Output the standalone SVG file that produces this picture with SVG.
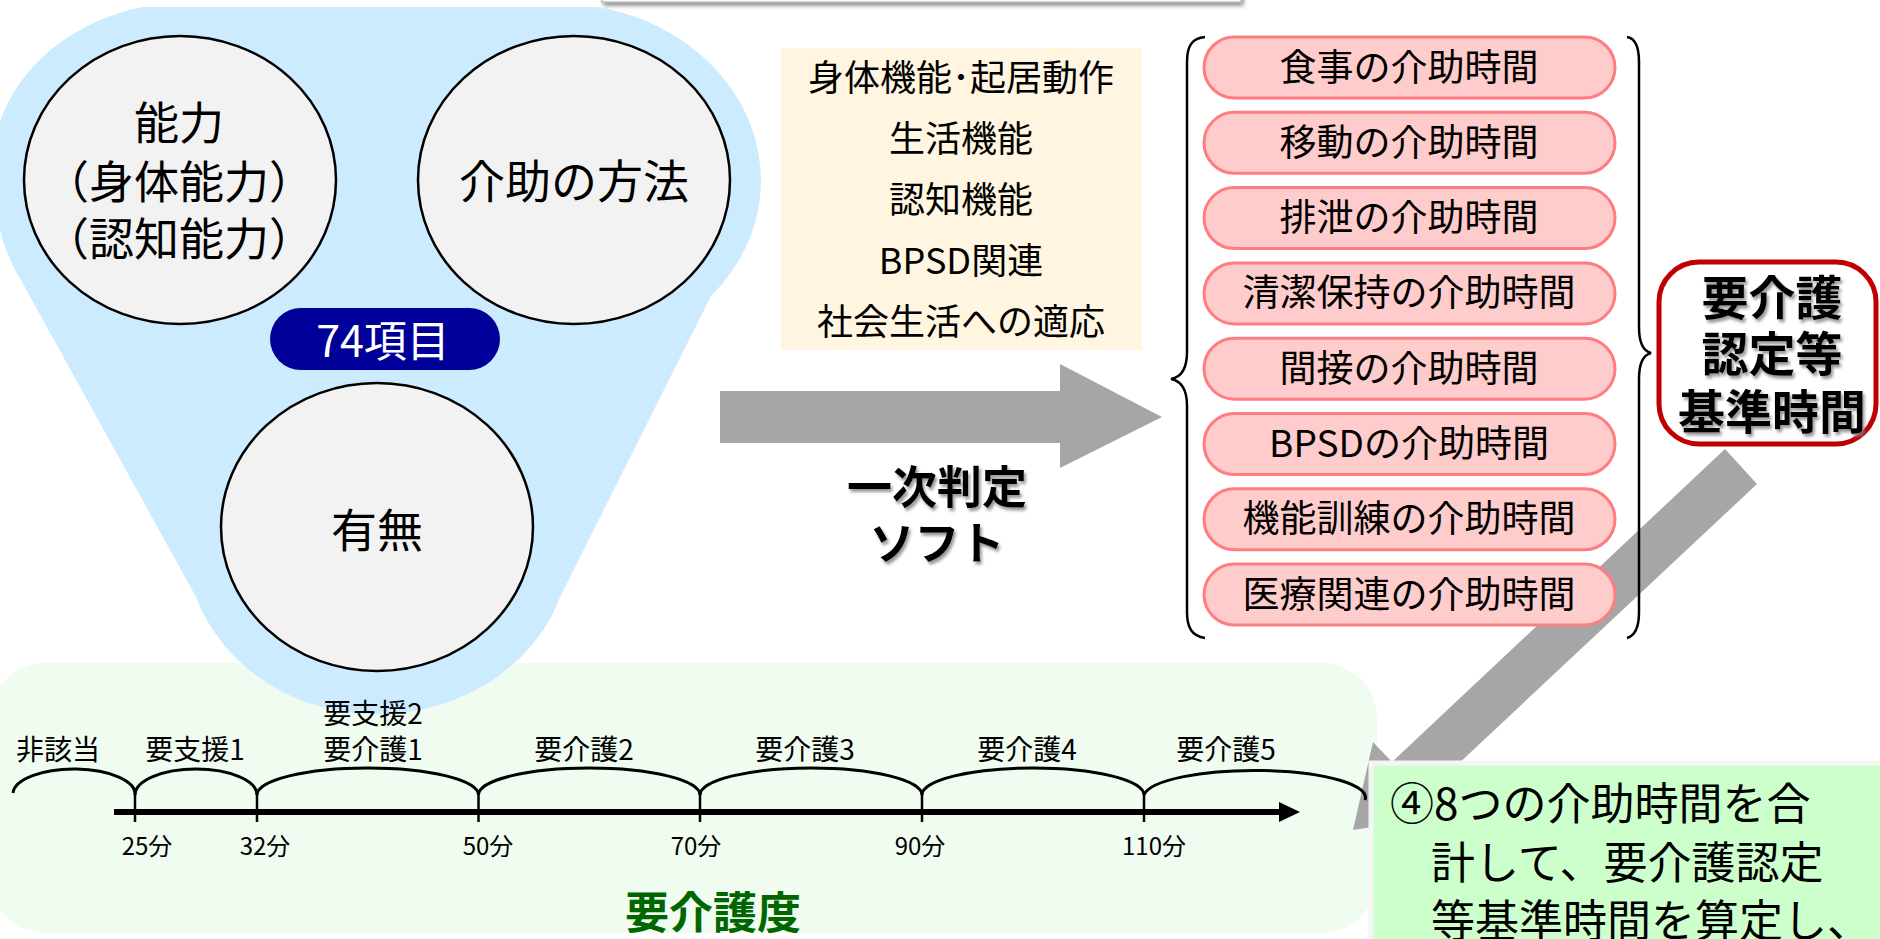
<svg xmlns="http://www.w3.org/2000/svg" width="1880" height="939" viewBox="0 0 1880 939">
<defs>
<style>
text{font-family:"Noto Sans CJK JP","Noto Sans",sans-serif;fill:#000}
.c{text-anchor:middle}
.circ{fill:#F2F2F2;stroke:#000;stroke-width:2.5}
.pill{fill:#FFCCCC;stroke:#FF7C80;stroke-width:3}
.pt{font-size:37px;text-anchor:middle}
.bt{font-size:36px;text-anchor:middle}
.brace{fill:none;stroke:#000;stroke-width:2.5}
.arc{fill:none;stroke:#000;stroke-width:3}
.tick{stroke:#000;stroke-width:2.5}
.lbl{font-size:28px;text-anchor:middle}
.tl{font-size:24px;text-anchor:middle}
.gt{font-size:44px}
.arrow{fill:#A6A6A6}
</style>
<filter id="sh" x="-10%" y="-10%" width="130%" height="140%">
<feDropShadow dx="2" dy="3" stdDeviation="1.5" flood-color="#808080" flood-opacity="0.8"/>
</filter>
<filter id="boxsh" x="-5%" y="-50%" width="110%" height="300%">
<feDropShadow dx="2" dy="3" stdDeviation="2" flood-color="#606060" flood-opacity="0.7"/>
</filter>
</defs>

<g id="top-box">
<rect x="602" y="-40" width="639" height="42" fill="#fff" stroke="#BFBFBF" stroke-width="1.5" filter="url(#boxsh)"/>
</g>

<g id="level-area">
<rect x="-10" y="663" width="1387" height="270" rx="55" fill="#F0FCF0"/>
</g>

<g id="items-group">
<path d="M 142,7 L 597,7 C 690,22 761,95 761,180 C 761,225 742,265 711,296 L 560,597 C 535,665 462,714 377,714 C 292,714 222,665 196,597 L 22,282 C 5,255 -8,215 -8,170 C -8,90 55,25 142,7 Z" fill="#CCEBFF"/>
</g>

<g id="node-ability">
<ellipse class="circ" cx="180" cy="180" rx="156" ry="144"/>
<text class="c" x="179" y="140" font-size="45">能力</text>
<text class="c" x="179" y="199" font-size="45">（身体能力）</text>
<text class="c" x="179" y="256" font-size="45">（認知能力）</text>
</g>
<g id="node-method">
<ellipse class="circ" cx="574" cy="180" rx="156" ry="144"/>
<text class="c" x="574" y="198" font-size="46">介助の方法</text>
</g>
<g id="node-presence">
<ellipse class="circ" cx="377" cy="527" rx="156" ry="144"/>
<text class="c" x="377" y="547" font-size="46">有無</text>
</g>
<g id="node-74">
<rect x="270" y="308" width="230" height="62" rx="31" fill="#000099"/>
<text class="c" x="383" y="357" font-size="43" style="fill:#fff">74項目</text>
</g>

<g id="node-categories">
<rect x="781" y="48" width="361" height="302" fill="#FFF5E0"/>
<text class="bt" x="961" y="91">身体機能･起居動作</text>
<text class="bt" x="961" y="152">生活機能</text>
<text class="bt" x="961" y="213">認知機能</text>
<text class="bt" x="961" y="274">BPSD関連</text>
<text class="bt" x="961" y="335">社会生活への適応</text>
</g>

<g id="connectors">
<polygon class="arrow" points="720,391 1060,391 1060,364 1162,417 1060,468 1060,443 720,443"/>
<polygon class="arrow" points="1725,449 1757,484 1424,796 1443,816 1353,830 1373,742 1392,762"/>
</g>

<g id="node-software">
<text class="c" x="937" y="504" font-size="45" font-weight="bold" filter="url(#sh)">一次判定</text>
<text class="c" x="937" y="560" font-size="45" font-weight="bold" filter="url(#sh)">ソフト</text>
</g>

<g id="node-times">
<rect class="pill" x="1204" y="37" width="411" height="61" rx="30.5"/>
<text class="pt" x="1409" y="80.5">食事の介助時間</text>
<rect class="pill" x="1204" y="112.3" width="411" height="61" rx="30.5"/>
<text class="pt" x="1409" y="155.8">移動の介助時間</text>
<rect class="pill" x="1204" y="187.6" width="411" height="61" rx="30.5"/>
<text class="pt" x="1409" y="231.1">排泄の介助時間</text>
<rect class="pill" x="1204" y="262.9" width="411" height="61" rx="30.5"/>
<text class="pt" x="1409" y="306.4">清潔保持の介助時間</text>
<rect class="pill" x="1204" y="338.2" width="411" height="61" rx="30.5"/>
<text class="pt" x="1409" y="381.7">間接の介助時間</text>
<rect class="pill" x="1204" y="413.5" width="411" height="61" rx="30.5"/>
<text class="pt" x="1409" y="457">BPSDの介助時間</text>
<rect class="pill" x="1204" y="488.8" width="411" height="61" rx="30.5"/>
<text class="pt" x="1409" y="532.3">機能訓練の介助時間</text>
<rect class="pill" x="1204" y="564.1" width="411" height="61" rx="30.5"/>
<text class="pt" x="1409" y="607.6">医療関連の介助時間</text>
<path class="brace" d="M 1205,37 C 1192,38 1187,46 1187,62 L 1187,352 C 1187,368 1182,377 1171,379 C 1182,381 1187,390 1187,406 L 1187,612 C 1187,628 1192,636 1205,638"/>
<path class="brace" d="M 1627,37 C 1634,38 1639,46 1639,62 L 1639,327 C 1639,343 1643,351 1651,353 C 1643,355 1639,363 1639,379 L 1639,612 C 1639,628 1634,636 1627,638"/>
</g>

<g id="node-standard-time">
<rect x="1659" y="262" width="217" height="182" rx="40" fill="#fff" stroke="#C00000" stroke-width="5"/>
<text class="c" x="1772" y="315" font-size="47" font-weight="bold" filter="url(#sh)">要介護</text>
<text class="c" x="1772" y="371" font-size="47" font-weight="bold" filter="url(#sh)">認定等</text>
<text class="c" x="1772" y="429" font-size="47" font-weight="bold" filter="url(#sh)">基準時間</text>
</g>

<g id="node-timeline">
<line x1="114" y1="812" x2="1282" y2="812" stroke="#000" stroke-width="6"/>
<polygon points="1279,802 1300,812 1279,822" fill="#000"/>
<line class="tick" x1="135" y1="795" x2="135" y2="822"/>
<line class="tick" x1="257" y1="795" x2="257" y2="822"/>
<line class="tick" x1="478.5" y1="795" x2="478.5" y2="822"/>
<line class="tick" x1="700" y1="795" x2="700" y2="822"/>
<line class="tick" x1="922" y1="795" x2="922" y2="822"/>
<line class="tick" x1="1144" y1="795" x2="1144" y2="822"/>
<path class="arc" d="M 13,793 A 61,25 0 0 1 135,795"/>
<path class="arc" d="M 135,795 A 61,26 0 0 1 257,795"/>
<path class="arc" d="M 257,795 A 110.75,27 0 0 1 478.5,795"/>
<path class="arc" d="M 478.5,795 A 110.75,27 0 0 1 700,795"/>
<path class="arc" d="M 700,795 A 111,27 0 0 1 922,795"/>
<path class="arc" d="M 922,795 A 111,27 0 0 1 1144,795"/>
<path class="arc" d="M 1144,795 A 110.5,27 0 0 1 1365,800"/>
<text class="lbl" x="58" y="760">非該当</text>
<text class="lbl" x="195" y="760">要支援1</text>
<text class="lbl" x="373" y="724">要支援2</text>
<text class="lbl" x="373" y="760">要介護1</text>
<text class="lbl" x="584" y="760">要介護2</text>
<text class="lbl" x="805" y="760">要介護3</text>
<text class="lbl" x="1027" y="760">要介護4</text>
<text class="lbl" x="1226" y="760">要介護5</text>
<text class="tl" x="147" y="855">25分</text>
<text class="tl" x="265" y="855">32分</text>
<text class="tl" x="488" y="855">50分</text>
<text class="tl" x="696" y="855">70分</text>
<text class="tl" x="920" y="855">90分</text>
<text class="tl" x="1154" y="855">110分</text>
<text class="c" x="713" y="929" font-size="44" font-weight="bold" style="fill:#006600">要介護度</text>
</g>

<g id="node-note">
<rect x="1371" y="763" width="520" height="190" fill="#CCFFCC" stroke="#F5F5F5" stroke-width="5"/>
<text class="gt" x="1390" y="820">④8つの介助時間を合</text>
<text class="gt" x="1431" y="879">計して、要介護認定</text>
<text class="gt" x="1431" y="937">等基準時間を算定し、</text>
</g>
</svg>
